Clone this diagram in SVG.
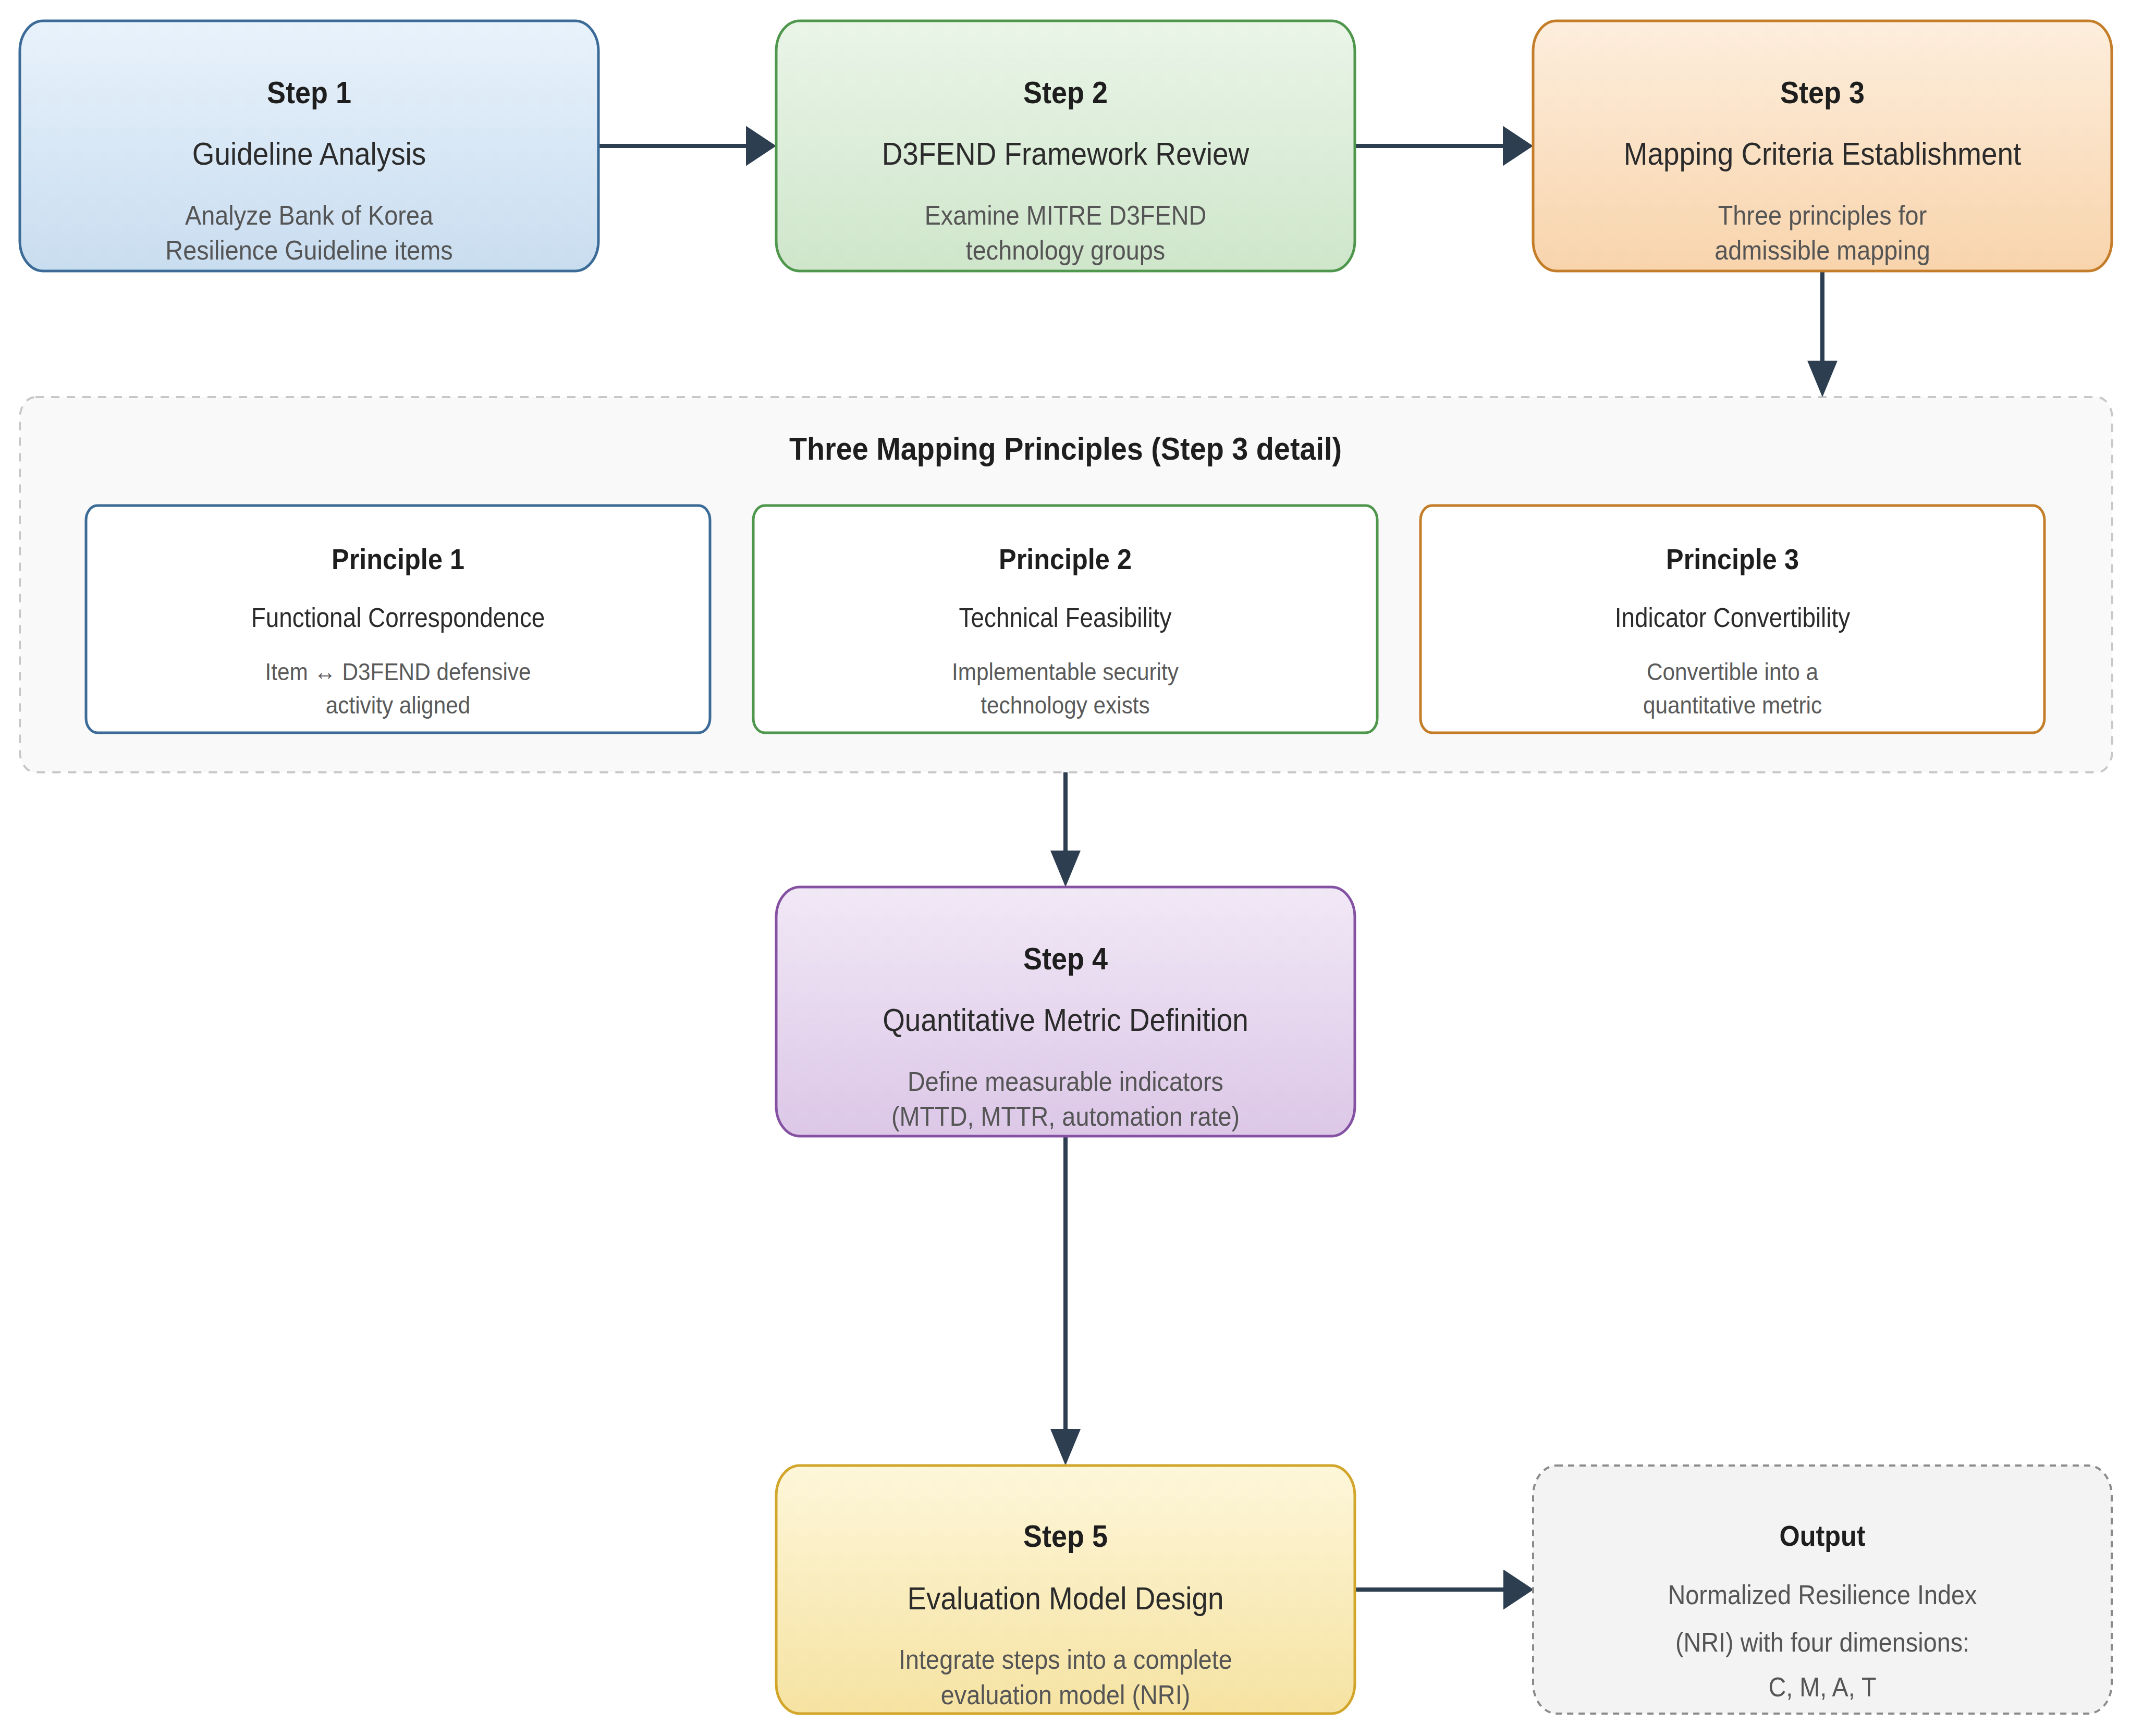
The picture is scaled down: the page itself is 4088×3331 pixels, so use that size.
<svg xmlns="http://www.w3.org/2000/svg" width="4088" height="3331" viewBox="0 0 4088 3331">
<style>
text{font-family:"Liberation Sans",Arial,sans-serif;text-anchor:middle}
.st{font-weight:bold;font-size:60px;fill:#1e1e1e}
.sub{font-size:61px;fill:#2b2b2b}
.desc{font-size:52px;fill:#555}
.ct{font-weight:bold;font-size:62px;fill:#1e1e1e}
.pt{font-weight:bold;font-size:56px;fill:#1e1e1e}
.psub{font-size:51px;fill:#2b2b2b}
.pdesc{font-size:47px;fill:#5a5a5a}
.box{stroke-width:5}
.pbox{fill:#fff;stroke-width:5}
.conn{fill:none;stroke:#2c3e50;stroke-width:8}
</style>
<defs>
<linearGradient id="g1" x1="0" y1="0" x2="0" y2="1"><stop offset="0" stop-color="#e8f2fb"/><stop offset="1" stop-color="#c9ddf0"/></linearGradient>
<linearGradient id="g2" x1="0" y1="0" x2="0" y2="1"><stop offset="0" stop-color="#eaf5e8"/><stop offset="1" stop-color="#cfe6cb"/></linearGradient>
<linearGradient id="g3" x1="0" y1="0" x2="0" y2="1"><stop offset="0" stop-color="#fdeedd"/><stop offset="1" stop-color="#f8d4ac"/></linearGradient>
<linearGradient id="g4" x1="0" y1="0" x2="0" y2="1"><stop offset="0" stop-color="#f1e8f6"/><stop offset="1" stop-color="#dcc7e7"/></linearGradient>
<linearGradient id="g5" x1="0" y1="0" x2="0" y2="1"><stop offset="0" stop-color="#fdf6d9"/><stop offset="1" stop-color="#f6e3a2"/></linearGradient>
<marker id="ah" markerUnits="userSpaceOnUse" markerWidth="58" markerHeight="77" refX="0" refY="38.5" orient="auto"><path d="M0,0 L58,38.5 L0,77 Z" fill="#2c3e50"/></marker>
<marker id="av" markerUnits="userSpaceOnUse" markerWidth="70" markerHeight="58" refX="0" refY="29" orient="auto"><path d="M0,0 L70,29 L0,58 Z" fill="#2c3e50"/></marker>
</defs>
<rect width="4088" height="3331" fill="#fff"/>

<g id="container">
<rect x="38" y="762" width="4014" height="720" rx="30" ry="40" fill="#f9f9f9" stroke="#c8c8c8" stroke-width="4" stroke-dasharray="16 14"/>
<g transform="matrix(0.9 0 0 1 204.4 0)"><text class="ct" x="2044" y="882">Three Mapping Principles (Step 3 detail)</text></g>
</g>

<g id="connectors">
<path class="conn" d="M1148,280 H1431" marker-end="url(#ah)"/>
<path class="conn" d="M2599,280 H2883" marker-end="url(#ah)"/>
<path class="conn" d="M3496,520 V692" marker-end="url(#av)"/>
<path class="conn" d="M2044,1482 V1632" marker-end="url(#av)"/>
<path class="conn" d="M2044,2180 V2742" marker-end="url(#av)"/>
<path class="conn" d="M2599,3050 H2884" marker-end="url(#ah)"/>
</g>

<g id="step1">
<rect class="box" x="38" y="40" width="1110" height="480" rx="45" ry="58" fill="url(#g1)" stroke="#3b6b96"/>
<g transform="matrix(0.9 0 0 1 59.3 0)">
<text class="st" x="593" y="198">Step 1</text>
<text class="sub" x="593" y="316">Guideline Analysis</text>
<text class="desc" x="593" y="431">Analyze Bank of Korea</text>
<text class="desc" x="593" y="498">Resilience Guideline items</text>
</g>
</g>

<g id="step2">
<rect class="box" x="1489" y="40" width="1110" height="480" rx="45" ry="58" fill="url(#g2)" stroke="#4f974c"/>
<g transform="matrix(0.9 0 0 1 204.4 0)">
<text class="st" x="2044" y="198">Step 2</text>
<text class="sub" x="2044" y="316">D3FEND Framework Review</text>
<text class="desc" x="2044" y="431">Examine MITRE D3FEND</text>
<text class="desc" x="2044" y="498">technology groups</text>
</g>
</g>

<g id="step3">
<rect class="box" x="2941" y="40" width="1110" height="480" rx="45" ry="58" fill="url(#g3)" stroke="#c47d28"/>
<g transform="matrix(0.9 0 0 1 349.6 0)">
<text class="st" x="3496" y="198">Step 3</text>
<text class="sub" x="3496" y="316">Mapping Criteria Establishment</text>
<text class="desc" x="3496" y="431">Three principles for</text>
<text class="desc" x="3496" y="498">admissible mapping</text>
</g>
</g>

<g id="principle1">
<rect class="pbox" x="165" y="970" width="1197" height="436" rx="22" ry="28" stroke="#3b6b96"/>
<g transform="matrix(0.9 0 0 1 76.35 0)">
<text class="pt" x="763.5" y="1092">Principle 1</text>
<text class="psub" x="763.5" y="1203">Functional Correspondence</text>
<text class="pdesc" x="763.5" y="1305">Item ↔ D3FEND defensive</text>
<text class="pdesc" x="763.5" y="1369">activity aligned</text>
</g>
</g>

<g id="principle2">
<rect class="pbox" x="1445" y="970" width="1197" height="436" rx="22" ry="28" stroke="#4f974c"/>
<g transform="matrix(0.9 0 0 1 204.35 0)">
<text class="pt" x="2043.5" y="1092">Principle 2</text>
<text class="psub" x="2043.5" y="1203">Technical Feasibility</text>
<text class="pdesc" x="2043.5" y="1305">Implementable security</text>
<text class="pdesc" x="2043.5" y="1369">technology exists</text>
</g>
</g>

<g id="principle3">
<rect class="pbox" x="2725" y="970" width="1197" height="436" rx="22" ry="28" stroke="#c47d28"/>
<g transform="matrix(0.9 0 0 1 332.35 0)">
<text class="pt" x="3323.5" y="1092">Principle 3</text>
<text class="psub" x="3323.5" y="1203">Indicator Convertibility</text>
<text class="pdesc" x="3323.5" y="1305">Convertible into a</text>
<text class="pdesc" x="3323.5" y="1369">quantitative metric</text>
</g>
</g>

<g id="step4">
<rect class="box" x="1489" y="1702" width="1110" height="478" rx="45" ry="58" fill="url(#g4)" stroke="#8552a3"/>
<g transform="matrix(0.9 0 0 1 204.4 0)">
<text class="st" x="2044" y="1860">Step 4</text>
<text class="sub" x="2044" y="1978">Quantitative Metric Definition</text>
<text class="desc" x="2044" y="2093">Define measurable indicators</text>
<text class="desc" x="2044" y="2160">(MTTD, MTTR, automation rate)</text>
</g>
</g>

<g id="step5">
<rect class="box" x="1489" y="2812" width="1110" height="476" rx="45" ry="58" fill="url(#g5)" stroke="#d2a52b"/>
<g transform="matrix(0.9 0 0 1 204.4 0)">
<text class="st" x="2044" y="2968">Step 5</text>
<text class="sub" x="2044" y="3088">Evaluation Model Design</text>
<text class="desc" x="2044" y="3202">Integrate steps into a complete</text>
<text class="desc" x="2044" y="3270">evaluation model (NRI)</text>
</g>
</g>

<g id="output">
<rect x="2941" y="2812" width="1110" height="476" rx="45" ry="58" fill="#f3f3f3" stroke="#8a8a8a" stroke-width="4" stroke-dasharray="12 10"/>
<g transform="matrix(0.9 0 0 1 349.6 0)">
<text class="st" x="3496" y="2966" style="font-size:56px">Output</text>
<text class="desc" x="3496" y="3078">Normalized Resilience Index</text>
<text class="desc" x="3496" y="3169">(NRI) with four dimensions:</text>
<text class="desc" x="3496" y="3255">C, M, A, T</text>
</g>
</g>
</svg>
